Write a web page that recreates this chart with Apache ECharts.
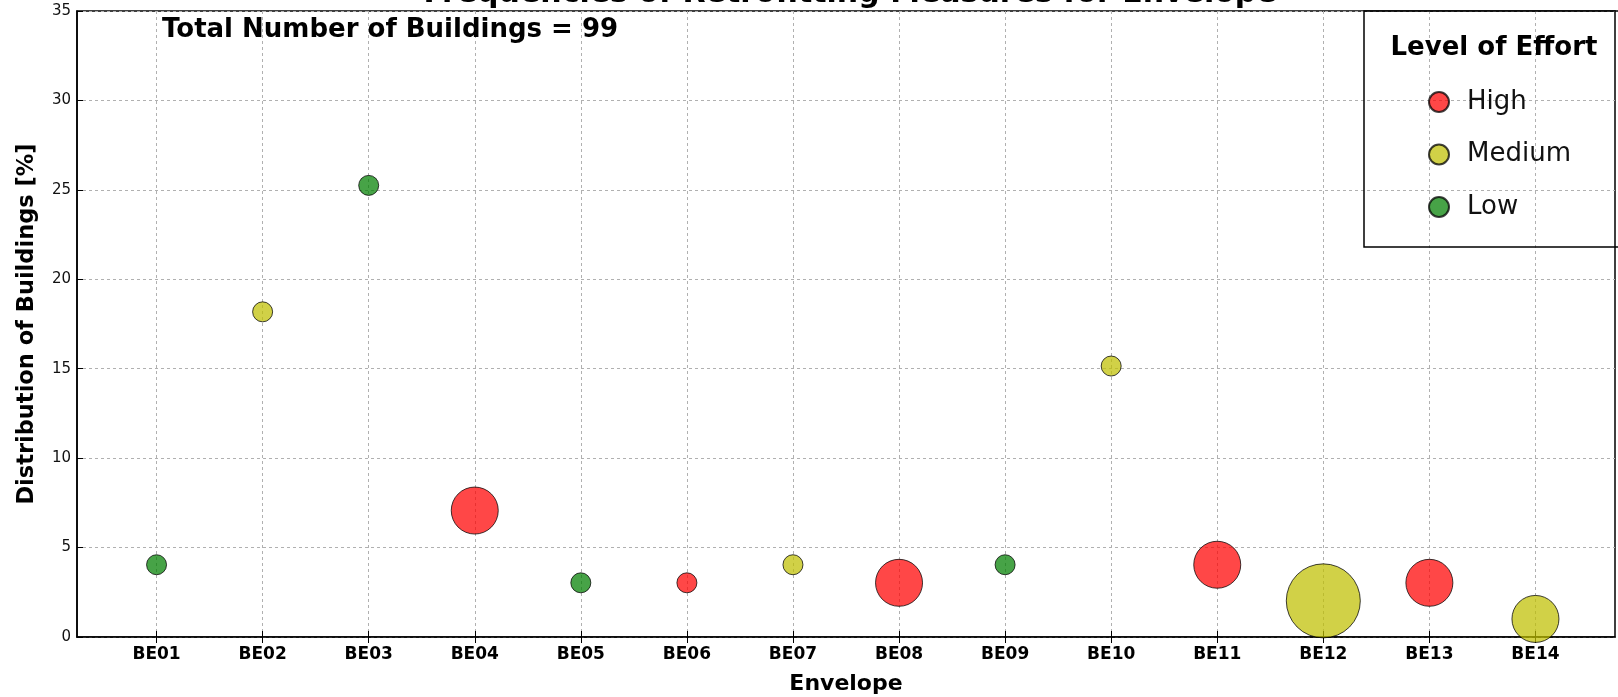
<!DOCTYPE html>
<html>
<head>
<meta charset="utf-8">
<script src="https://cdn.jsdelivr.net/npm/echarts@6/dist/echarts.min.js"></script>
<style>
html,body{margin:0;padding:0;background:#fff;}
#chart{width:1618px;height:697px;}
</style>
</head>
<body>
<div id="chart"></div>
<script>
// ---- data ----
const categories = ['BE01','BE02','BE03','BE04','BE05','BE06','BE07','BE08','BE09','BE10','BE11','BE12','BE13','BE14'];
const distribution = [4.04, 18.18, 25.25, 7.07, 3.03, 3.03, 4.04, 3.03, 4.04, 15.15, 4.04, 2.02, 3.03, 1.01];
const effort = ['Low','Medium','Low','High','Low','High','Medium','High','Low','Medium','High','Medium','High','Medium'];
const bubbleClass = [1, 1, 1, 2, 1, 1, 1, 2, 1, 1, 2, 3, 2, 2];
const effortLevels = ['High','Medium','Low'];
const yTicks = [0, 5, 10, 15, 20, 25, 30, 35];
const totalBuildings = 99;

const colors = { High: 'rgba(255,0,0,0.72)', Medium: 'rgba(191,191,0,0.72)', Low: 'rgba(0,128,0,0.72)' };
const FONT = 'DejaVu Sans';
const positions = categories.map((c, i) => i + 1);

function seriesData(level) {
  const out = [];
  categories.forEach((c, i) => {
    if (effort[i] === level) out.push([positions[i], distribution[i], bubbleClass[i]]);
  });
  return out;
}

const chart = echarts.init(document.getElementById('chart'), null, { renderer: 'canvas' });

const gridDash = { color: '#b0b0b0', type: [3, 3], width: 1 };

const option = {
  backgroundColor: '#fff',
  animation: false,
  grid: { left: 77, top: 11, width: 1538, bottom: 60, show: true, borderColor: '#000', borderWidth: 1.5,
          containLabel: false, outerBoundsMode: 'none' },
  legend: {
    data: effortLevels,
    orient: 'vertical',
    left: 1423,
    top: 84,
    itemWidth: 20,
    itemHeight: 20,
    itemGap: 26.5,
    icon: 'circle',
    textStyle: { fontFamily: FONT, fontSize: 26, color: '#111', lineHeight: 20, padding: [0, 0, 0, 13] }
  },
  xAxis: [{
    type: 'value',
    min: 0.25,
    max: 14.75,
    name: 'Envelope',
    nameLocation: 'middle',
    nameGap: 36,
    nameTextStyle: { fontFamily: FONT, fontSize: 22, fontWeight: 'bold', color: '#000' },
    axisLine: { show: true, onZero: false, lineStyle: { color: '#000', width: 1.5 } },
    axisTick: { show: true, inside: true, length: 6, customValues: positions, lineStyle: { color: '#000' } },
    axisLabel: {
      show: true, margin: 9, customValues: positions,
      fontFamily: FONT, fontSize: 17, fontWeight: 'bold', color: '#000',
      formatter: v => categories[Math.round(v) - 1] || ''
    },
    splitLine: { show: true, customValues: positions, lineStyle: gridDash }
  }, {
    type: 'value',
    position: 'top',
    min: 0.25,
    max: 14.75,
    axisLine: { show: false },
    axisTick: { show: true, inside: true, length: 6, customValues: positions, lineStyle: { color: '#000' } },
    axisLabel: { show: false, customValues: positions },
    splitLine: { show: false }
  }],
  yAxis: {
    type: 'value',
    min: 0,
    max: 35,
    interval: 5,
    name: 'Distribution of Buildings [%]',
    nameLocation: 'middle',
    nameGap: 38,
    nameTextStyle: { fontFamily: FONT, fontSize: 22.5, fontWeight: 'bold', color: '#000' },
    axisLine: { show: true, lineStyle: { color: '#000', width: 1.5 } },
    axisTick: { show: true, inside: true, length: 6, lineStyle: { color: '#000' } },
    axisLabel: { margin: 6, fontFamily: FONT, fontSize: 15, color: '#111', formatter: v => (yTicks.indexOf(v) >= 0 ? String(v) : '') },
    splitLine: { show: true, lineStyle: gridDash }
  },
  series: effortLevels.map(level => ({
    name: level,
    type: 'scatter',
    data: seriesData(level),
    symbol: 'circle',
    symbolSize: d => 20 + 27 * (d[2] - 1),
    itemStyle: { color: colors[level], opacity: 1, borderColor: 'rgba(0,0,0,0.75)', borderWidth: 1 },
    emphasis: { disabled: true }
  })),
  graphic: [
    {
      type: 'text', z: 100,
      style: { text: 'Frequencies of Retrofitting Measures for Envelope', x: 850, y: -6, textAlign: 'center', textVerticalAlign: 'middle',
        fontFamily: FONT, fontSize: 30, fontWeight: 'bold', fill: '#000' }
    },
    {
      type: 'text', z: 100,
      style: { text: 'Total Number of Buildings = ' + totalBuildings, x: 162, y: 30, textAlign: 'left', textVerticalAlign: 'middle',
        fontFamily: FONT, fontSize: 26, fontWeight: 'bold', fill: '#000' }
    },
    {
      type: 'rect', z: 100,
      shape: { x: 1364, y: 11, width: 300, height: 236 },
      style: { fill: 'none', stroke: '#000', lineWidth: 1.5 }
    },
    {
      type: 'text', z: 100,
      style: { text: 'Level of Effort', x: 1494, y: 48, textAlign: 'center', textVerticalAlign: 'middle',
        fontFamily: FONT, fontSize: 26, fontWeight: 'bold', fill: '#000' }
    }
  ]
};

chart.setOption(option);
</script>
</body>
</html>
